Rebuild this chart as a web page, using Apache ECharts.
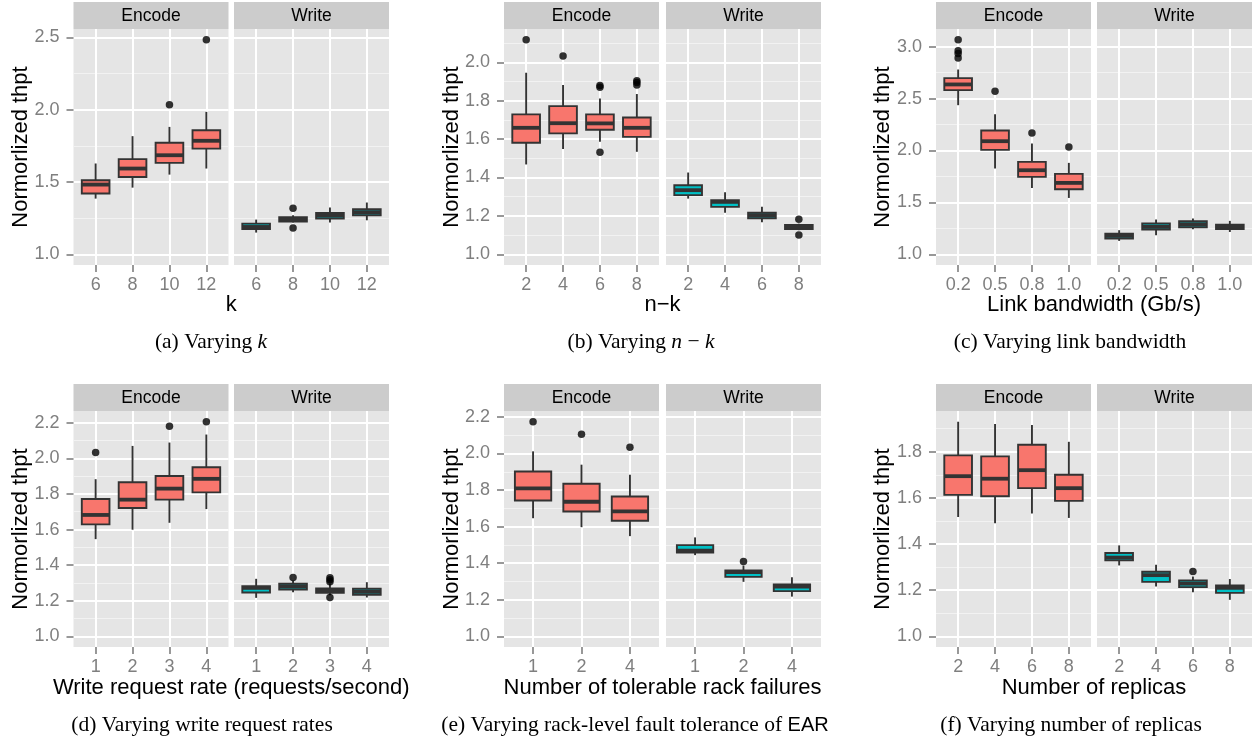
<!DOCTYPE html>
<html><head><meta charset="utf-8">
<script src="https://cdn.jsdelivr.net/npm/echarts@6/dist/echarts.min.js"></script>
<style>html,body{margin:0;padding:0;background:#fff}#c{width:1256px;height:740px}</style>
</head><body><div id="c"></div><script>
// ---------- data (lo, q1, median, q3, hi) ----------
const facetNames = ['Encode', 'Write'];

const aCats = ['6', '8', '10', '12'];
const aEncode = [[1.385,1.420,1.482,1.512,1.628],[1.461,1.535,1.593,1.658,1.817],[1.551,1.632,1.685,1.771,1.881],[1.593,1.731,1.785,1.858,1.985]];
const aEncodeOut = [[3,2.034],[4,2.484]];
const aWrite = [[1.150,1.175,1.189,1.212,1.240],[1.219,1.226,1.242,1.256,1.270],[1.219,1.247,1.268,1.286,1.323],[1.235,1.270,1.291,1.311,1.358]];
const aWriteOut = [[2,1.318],[2,1.182]];
const aTicks = [1.0, 1.5, 2.0, 2.5];

const bCats = ['2', '4', '6', '8'];
const bEncode = [[1.468,1.581,1.659,1.729,1.946],[1.548,1.630,1.683,1.772,1.882],[1.586,1.649,1.682,1.729,1.812],[1.534,1.612,1.659,1.713,1.835]];
const bEncodeOut = [[1,2.118],[2,2.033],[3,1.880],[3,1.870],[3,1.532],[4,1.904],[4,1.895],[4,1.882]];
const bWrite = [[1.290,1.308,1.334,1.360,1.426],[1.217,1.247,1.273,1.282,1.323],[1.167,1.188,1.203,1.216,1.247],[1.125,1.132,1.143,1.153,1.160]];
const bWriteOut = [[4,1.183],[4,1.101]];
const bTicks = [1.0, 1.2, 1.4, 1.6, 1.8, 2.0];

const cCats = ['0.2', '0.5', '0.8', '1.0'];
const cEncode = [[2.437,2.582,2.637,2.698,2.781],[1.826,2.006,2.090,2.193,2.350],[1.640,1.746,1.810,1.891,2.068],[1.543,1.627,1.688,1.775,1.881]];
const cEncodeOut = [[1,3.068],[1,2.961],[1,2.935],[1,2.891],[2,2.572],[3,2.170],[4,2.035]];
const cWrite = [[1.129,1.151,1.177,1.199,1.232],[1.183,1.238,1.264,1.296,1.334],[1.241,1.260,1.289,1.318,1.344],[1.215,1.244,1.264,1.286,1.322]];
const cWriteOut = [];
const cTicks = [1.0, 1.5, 2.0, 2.5, 3.0];

const dCats = ['1', '2', '3', '4'];
const dEncode = [[1.546,1.629,1.682,1.772,1.883],[1.599,1.721,1.768,1.866,2.070],[1.638,1.768,1.830,1.901,2.089],[1.715,1.809,1.885,1.950,2.134]];
const dEncodeOut = [[1,2.033],[3,2.181],[4,2.206]];
const dWrite = [[1.216,1.246,1.272,1.282,1.323],[1.248,1.263,1.280,1.295,1.314],[1.231,1.244,1.257,1.269,1.295],[1.218,1.233,1.250,1.267,1.304]];
const dWriteOut = [[2,1.330],[3,1.329],[3,1.318],[3,1.306],[3,1.218]];
const dTicks = [1.0, 1.2, 1.4, 1.6, 1.8, 2.0, 2.2];

const eCats = ['1', '2', '4'];
const eEncode = [[1.646,1.743,1.809,1.902,2.012],[1.597,1.683,1.736,1.835,1.939],[1.548,1.632,1.683,1.765,1.884]];
const eEncodeOut = [[1,2.174],[2,2.105],[3,2.034]];
const eWrite = [[1.444,1.458,1.469,1.499,1.541],[1.298,1.325,1.351,1.360,1.387],[1.217,1.247,1.272,1.283,1.323]];
const eWriteOut = [[2,1.409]];
const eTicks = [1.0, 1.2, 1.4, 1.6, 1.8, 2.0, 2.2];

const fCats = ['2', '4', '6', '8'];
const fEncode = [[1.517,1.613,1.694,1.784,1.930],[1.490,1.607,1.683,1.780,1.920],[1.532,1.642,1.720,1.830,1.916],[1.513,1.587,1.642,1.700,1.843]];
const fEncodeOut = [];
const fWrite = [[1.307,1.329,1.341,1.361,1.394],[1.216,1.236,1.265,1.280,1.310],[1.191,1.213,1.228,1.242,1.259],[1.158,1.188,1.210,1.220,1.248]];
const fWriteOut = [[3,1.281]];
const fTicks = [1.0, 1.2, 1.4, 1.6, 1.8];

const yTitle = 'Normorlized thpt';
const xTitles = ['k', 'n\u2212k', 'Link bandwidth (Gb/s)', 'Write request rate (requests/second)', 'Number of tolerable rack failures', 'Number of replicas'];
const captions = ['(a) Varying {i|k}', '(b) Varying {i|n} \u2212 {i|k}', '(c) Varying link bandwidth', '(d) Varying write request rates', '(e) Varying rack-level fault tolerance of {s|EAR}', '(f) Varying number of replicas'];

// ---------- assembly ----------
const panels = [
  {cats:aCats, enc:aEncode, encOut:aEncodeOut, wr:aWrite, wrOut:aWriteOut, ticks:aTicks},
  {cats:bCats, enc:bEncode, encOut:bEncodeOut, wr:bWrite, wrOut:bWriteOut, ticks:bTicks},
  {cats:cCats, enc:cEncode, encOut:cEncodeOut, wr:cWrite, wrOut:cWriteOut, ticks:cTicks},
  {cats:dCats, enc:dEncode, encOut:dEncodeOut, wr:dWrite, wrOut:dWriteOut, ticks:dTicks},
  {cats:eCats, enc:eEncode, encOut:eEncodeOut, wr:eWrite, wrOut:eWriteOut, ticks:eTicks},
  {cats:fCats, enc:fEncode, encOut:fEncodeOut, wr:fWrite, wrOut:fWriteOut, ticks:fTicks}
];

const SANS = '"Liberation Sans", Arial, Helvetica, sans-serif';
const SERIF = '"Liberation Serif", "Times New Roman", serif';
const encLeft = [73.5, 504, 936];
const wrLeft = [234, 666, 1097];
const facetW = 155;
const rowTop = [2, 384];
const stripH = 27;
const plotH = 236;
const yTitleX = [21, 452, 883];
const xTitleY = [305, 688];
const captionX = [211, 641, 1070, 202, 635, 1071];
const captionY = [342, 725];
const fills = ['#F8766D', '#00BFC4'];
const outline = '#333333';

function renderBox(params, api) {
  const x = api.value(0);
  const lo = api.coord([x, api.value(1)]);
  const q1 = api.coord([x, api.value(2)]);
  const md = api.coord([x, api.value(3)]);
  const q3 = api.coord([x, api.value(4)]);
  const hi = api.coord([x, api.value(5)]);
  const w = api.size([0.75, 0])[0];
  const fill = api.visual('color');
  return {
    type: 'group',
    children: [
      {type:'line', shape:{x1:lo[0], y1:lo[1], x2:q1[0], y2:q1[1]}, style:{stroke:outline, lineWidth:1.9}},
      {type:'line', shape:{x1:q3[0], y1:q3[1], x2:hi[0], y2:hi[1]}, style:{stroke:outline, lineWidth:1.9}},
      {type:'rect', shape:{x:q1[0]-w/2, y:q3[1], width:w, height:q1[1]-q3[1]}, style:{fill:fill, stroke:outline, lineWidth:1.9}},
      {type:'line', shape:{x1:md[0]-w/2, y1:md[1], x2:md[0]+w/2, y2:md[1]}, style:{stroke:outline, lineWidth:3.8}}
    ]
  };
}

const grid = [], xAxis = [], yAxis = [], series = [], graphic = [];
panels.forEach((p, pi) => {
  const r = Math.floor(pi / 3), c = pi % 3;
  const n = p.cats.length;
  // y range like ggplot: data range incl. 1.0, expanded by 5%
  let vals = [1];
  p.enc.forEach(b => vals.push(...b)); p.wr.forEach(b => vals.push(...b));
  p.encOut.forEach(o => vals.push(o[1])); p.wrOut.forEach(o => vals.push(o[1]));
  const dmin = Math.min(...vals), dmax = Math.max(...vals);
  const pad = 0.05 * (dmax - dmin);
  const ymin = dmin - pad, ymax = dmax + pad;
  const step = Math.round((p.ticks[1] - p.ticks[0]) * 1000) / 1000;
  const xVals = p.cats.map((_, i) => i + 1);

  [0, 1].forEach(f => {
    const gi = grid.length;
    const left = f === 0 ? encLeft[c] : wrLeft[c];
    const top = rowTop[r] + stripH;
    grid.push({left: left, top: top, width: facetW, height: plotH, show: true, backgroundColor: '#E5E5E5', borderWidth: 0, containLabel: false});
    xAxis.push({
      type: 'value', gridIndex: gi, min: 0.4, max: n + 0.6,
      axisLine: {show: false},
      axisTick: {show: true, length: 7, customValues: xVals, lineStyle: {color: '#7F7F7F', width: 1.6}},
      axisLabel: {show: true, customValues: xVals, margin: 11, color: '#7F7F7F', fontSize: 18, fontFamily: SANS,
        formatter: v => p.cats[Math.round(v) - 1]},
      splitLine: {show: true, lineStyle: {color: '#FFFFFF', width: 2}}
    });
    yAxis.push({
      type: 'value', gridIndex: gi, min: ymin, max: ymax, minInterval: step, maxInterval: step,
      axisLine: {show: false},
      axisTick: {show: f === 0, length: 7, customValues: p.ticks, lineStyle: {color: '#7F7F7F', width: 1.6}},
      axisLabel: {show: f === 0, customValues: p.ticks, margin: 14, color: '#7F7F7F', fontSize: 18, fontFamily: SANS,
        formatter: v => v.toFixed(1)},
      splitLine: {show: true, lineStyle: {color: '#FFFFFF', width: 2}},
      minorTick: {show: false, splitNumber: 2},
      minorSplitLine: {show: true, lineStyle: {color: '#F2F2F2', width: 1}}
    });
    const boxes = f === 0 ? p.enc : p.wr;
    const outs = f === 0 ? p.encOut : p.wrOut;
    series.push({
      type: 'custom', name: facetNames[f], xAxisIndex: gi, yAxisIndex: gi,
      itemStyle: {color: fills[f]},
      encode: {x: 0, y: [1, 2, 3, 4, 5]},
      data: boxes.map((b, i) => [i + 1, ...b]),
      renderItem: renderBox, z: 3, silent: true
    });
    if (outs.length) {
      series.push({
        type: 'scatter', xAxisIndex: gi, yAxisIndex: gi, symbol: 'circle', symbolSize: 7.5,
        itemStyle: {color: '#000000'}, data: outs, z: 4, silent: true
      });
    }
    // facet strip
    graphic.push({type: 'rect', shape: {x: left, y: rowTop[r], width: facetW, height: stripH}, style: {fill: '#CCCCCC'}, silent: true});
    graphic.push({type: 'text', x: left + facetW / 2, y: rowTop[r] + stripH / 2 + 1,
      style: {text: facetNames[f], fontFamily: SANS, fontSize: 17.5, fill: '#000', align: 'center', verticalAlign: 'middle', textAlign: 'center', textVerticalAlign: 'middle'}, silent: true});
  });

  // y title
  graphic.push({type: 'text', x: yTitleX[c], y: rowTop[r] + stripH + plotH / 2, rotation: Math.PI / 2,
    style: {text: yTitle, fontFamily: SANS, fontSize: 22, fill: '#000', align: 'center', verticalAlign: 'middle', textAlign: 'center', textVerticalAlign: 'middle'}, silent: true});
  // x title
  graphic.push({type: 'text', x: (encLeft[c] + wrLeft[c] + facetW) / 2, y: xTitleY[r],
    style: {text: xTitles[pi], fontFamily: SANS, fontSize: 22, fill: '#000', align: 'center', verticalAlign: 'middle', textAlign: 'center', textVerticalAlign: 'middle'}, silent: true});
  // caption
  graphic.push({type: 'text', x: captionX[pi], y: captionY[r],
    style: {text: captions[pi], fontFamily: SERIF, fontSize: 21.5, fill: '#000', align: 'center', verticalAlign: 'middle', textAlign: 'center', textVerticalAlign: 'middle',
      rich: {i: {fontFamily: SERIF, fontSize: 21.5, fontStyle: 'italic', fill: '#000'}, s: {fontFamily: SANS, fontSize: 20, fill: '#000'}}}, silent: true});
});

const chart = echarts.init(document.getElementById('c'), null, {renderer: 'canvas'});
chart.setOption({animation: false, backgroundColor: '#FFFFFF', grid, xAxis, yAxis, series, graphic});
</script></body></html>
